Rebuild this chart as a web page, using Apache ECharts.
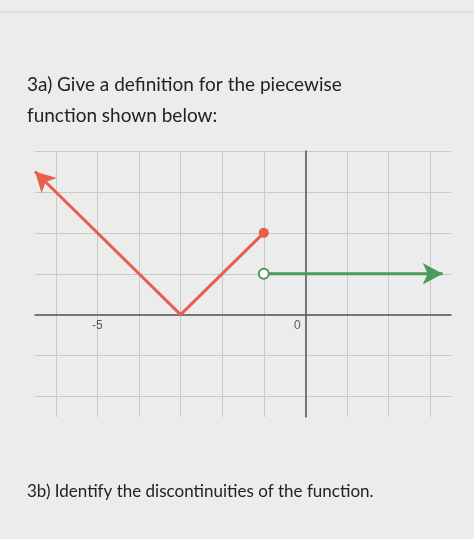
<!DOCTYPE html>
<html>
<head>
<meta charset="utf-8">
<script src="https://cdn.jsdelivr.net/npm/echarts@6/dist/echarts.min.js"></script>
<style>
  html, body { margin: 0; padding: 0; background: #ececec; }
  #chart { width: 474px; height: 539px; }
</style>
</head>
<body>
<div id="chart"></div>
<script>
// piece 1 (red): arrow at left, vertex, closed dot
let redX = [-6.5, -3, -1];
let redY = [3.5, 0, 2];
// piece 2 (green): open dot, arrow at right
let greenX = [-1, 3.3];
let greenY = [1, 1];
let shownTicks = [-5, 0];

let myChart = echarts.init(document.getElementById('chart'));
let gridColor = ['rgba(0,0,0,0)', '#c9c9c9'];

let redData = redX.map(function (x, i) { return [x, redY[i]]; });
redData[0] = {value: redData[0], symbol: 'arrow', symbolSize: [16, 20], symbolRotate: 45};
redData[1] = {value: redData[1], symbol: 'none'};
redData[2] = {value: redData[2], symbol: 'circle', symbolSize: 10};

let greenData = greenX.map(function (x, i) { return [x, greenY[i]]; });
greenData[0] = {value: greenData[0], symbol: 'emptyCircle', symbolSize: 10};
greenData[1] = {value: greenData[1], symbol: 'arrow', symbolSize: [16, 20], symbolRotate: -90};

// tick labels sitting just under the x axis
let tickData = shownTicks.map(function (v) {
    return {value: [v, 0], label: {offset: v === 0 ? [-8, 0] : [0, 0]}};
});

myChart.setOption({
    backgroundColor: '#ececec',
    animation: false,
    graphic: [{type: 'line', shape: {x1: 0, y1: 12, x2: 474, y2: 12}, style: {stroke: '#d6d6d6', lineWidth: 1}}],
    title: [
        {
            text: '3a) Give a definition for the piecewise\nfunction shown below:',
            left: 22, top: 64,
            textStyle: {fontFamily: 'Lato', fontSize: 19, fontWeight: 'normal', color: '#222', lineHeight: 31}
        },
        {
            text: '3b) Identify the discontinuities of the function.',
            left: 22, top: 478,
            textStyle: {fontFamily: 'Lato', fontSize: 17, fontWeight: 'normal', color: '#222'}
        }
    ],
    grid: {left: 35, top: 151, width: 416, height: 266},
    xAxis: {
        type: 'value', min: -6.5, max: 3.5, interval: 0.5,
        axisLine: {onZero: true, lineStyle: {color: '#555', width: 1.5}},
        axisTick: {show: false},
        axisLabel: {show: false},
        splitLine: {show: true, lineStyle: {color: gridColor, width: 1}}
    },
    yAxis: {
        type: 'value', min: -2.5, max: 4, interval: 0.5,
        axisLine: {onZero: true, lineStyle: {color: '#555', width: 1.5}},
        axisTick: {show: false},
        axisLabel: {show: false},
        splitLine: {show: true, lineStyle: {color: gridColor, width: 1}}
    },
    series: [
        {
            name: 'red', type: 'line', data: redData,
            lineStyle: {color: '#e8604c', width: 3},
            itemStyle: {color: '#e8604c'}
        },
        {
            name: 'green', type: 'line', data: greenData,
            lineStyle: {color: '#4a9a5c', width: 3},
            itemStyle: {color: '#4a9a5c', borderWidth: 2}
        },
        {
            name: 'ticks', type: 'scatter', data: tickData, symbolSize: 1,
            itemStyle: {color: 'rgba(0,0,0,0)'},
            label: {
                show: true, position: 'bottom', distance: 4, color: '#333', fontSize: 12,
                formatter: function (p) { return String(p.value[0]); }
            }
        }
    ]
});
</script>
</body>
</html>
